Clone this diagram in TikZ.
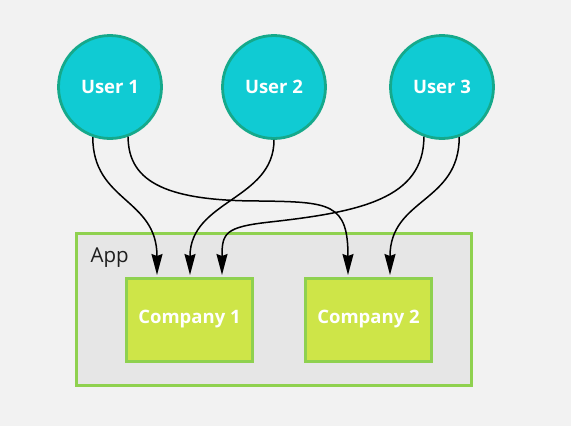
\documentclass[tikz,border=0pt]{standalone}
\usepackage{fontspec}
\setmainfont{Open Sans}
\usetikzlibrary{arrows.meta}
\definecolor{bgc}{HTML}{F2F2F2}
\definecolor{userfill}{HTML}{10CBD3}
\definecolor{userline}{HTML}{15A98B}
\definecolor{compfill}{HTML}{CEE548}
\definecolor{greenline}{HTML}{8FD14F}
\definecolor{appfill}{HTML}{E6E6E6}
\definecolor{apptext}{HTML}{1E1E1E}
\tikzset{
  userbox/.style={circle, draw=userline, fill=userfill, line width=2.8pt, minimum size=103pt, inner sep=0pt,
    text=white, font=\fontsize{18.5}{22}\selectfont\bfseries},
  compbox/.style={rectangle, draw=greenline, fill=compfill, line width=3pt, minimum width=126pt, minimum height=83pt,
    inner sep=0pt, text=white, font=\fontsize{18.5}{22}\selectfont\bfseries},
  appbox/.style={rectangle, draw=greenline, fill=appfill, line width=3pt, minimum width=395pt, minimum height=152pt, inner sep=0pt},
  applabel/.style={anchor=base west, inner sep=0pt, text=apptext, font=\fontsize{20.5}{24}\selectfont},
  link/.style={draw=black, line width=1.5pt, -{Stealth[length=21pt, width=11pt, inset=2pt]}}
}
\begin{document}
\begin{tikzpicture}[x=1pt, y=-1pt]
\useasboundingbox[fill=bgc] (0,0) rectangle (571,426);
\node[appbox] (app) at (274,309.5) {};
\node[applabel] (applbl) at (90.5,262) {App};
\node[compbox] (c1) at (189.5,319.5) {Company 1};
\node[compbox] (c2) at (368.5,319.5) {Company 2};
\node[userbox] (u1) at (110,87) {User 1};
\node[userbox] (u2) at (274,87) {User 2};
\node[userbox] (u3) at (442,87) {User 3};
\coordinate (c1a) at ([xshift=-32.5pt, yshift=1.5pt]c1.north);
\coordinate (c1b) at ([xshift=0.5pt, yshift=1.5pt]c1.north);
\coordinate (c1c) at ([xshift=32.5pt, yshift=1.5pt]c1.north);
\coordinate (c2a) at ([xshift=-20.5pt, yshift=1.5pt]c2.north);
\coordinate (c2b) at ([xshift=21.5pt, yshift=1.5pt]c2.north);
\coordinate (m2a) at (260,201);
\coordinate (m4a) at (270,222);
% User 1 -> Company 1
\draw[link] (u1.-109) .. controls +(0,65) and +(0,-77) .. (c1a);
% User 1 -> Company 2
\draw[link] (u1.-70) .. controls +(0,47) and +(-90,0) .. (m2a)
  .. controls +(70,1) and +(0,-72) .. (c2a);
% User 2 -> Company 1
\draw[link] (u2.-90) .. controls +(0,60) and +(0,-75) .. (c1b);
% User 3 -> Company 1
\draw[link] (u3.-110) .. controls +(0,62) and +(90,-10) .. (m4a)
  .. controls +(-45,5) and +(0,-42) .. (c1c);
% User 3 -> Company 2
\draw[link] (u3.-71) .. controls +(0,66) and +(0,-77) .. (c2b);
\end{tikzpicture}
\end{document}
